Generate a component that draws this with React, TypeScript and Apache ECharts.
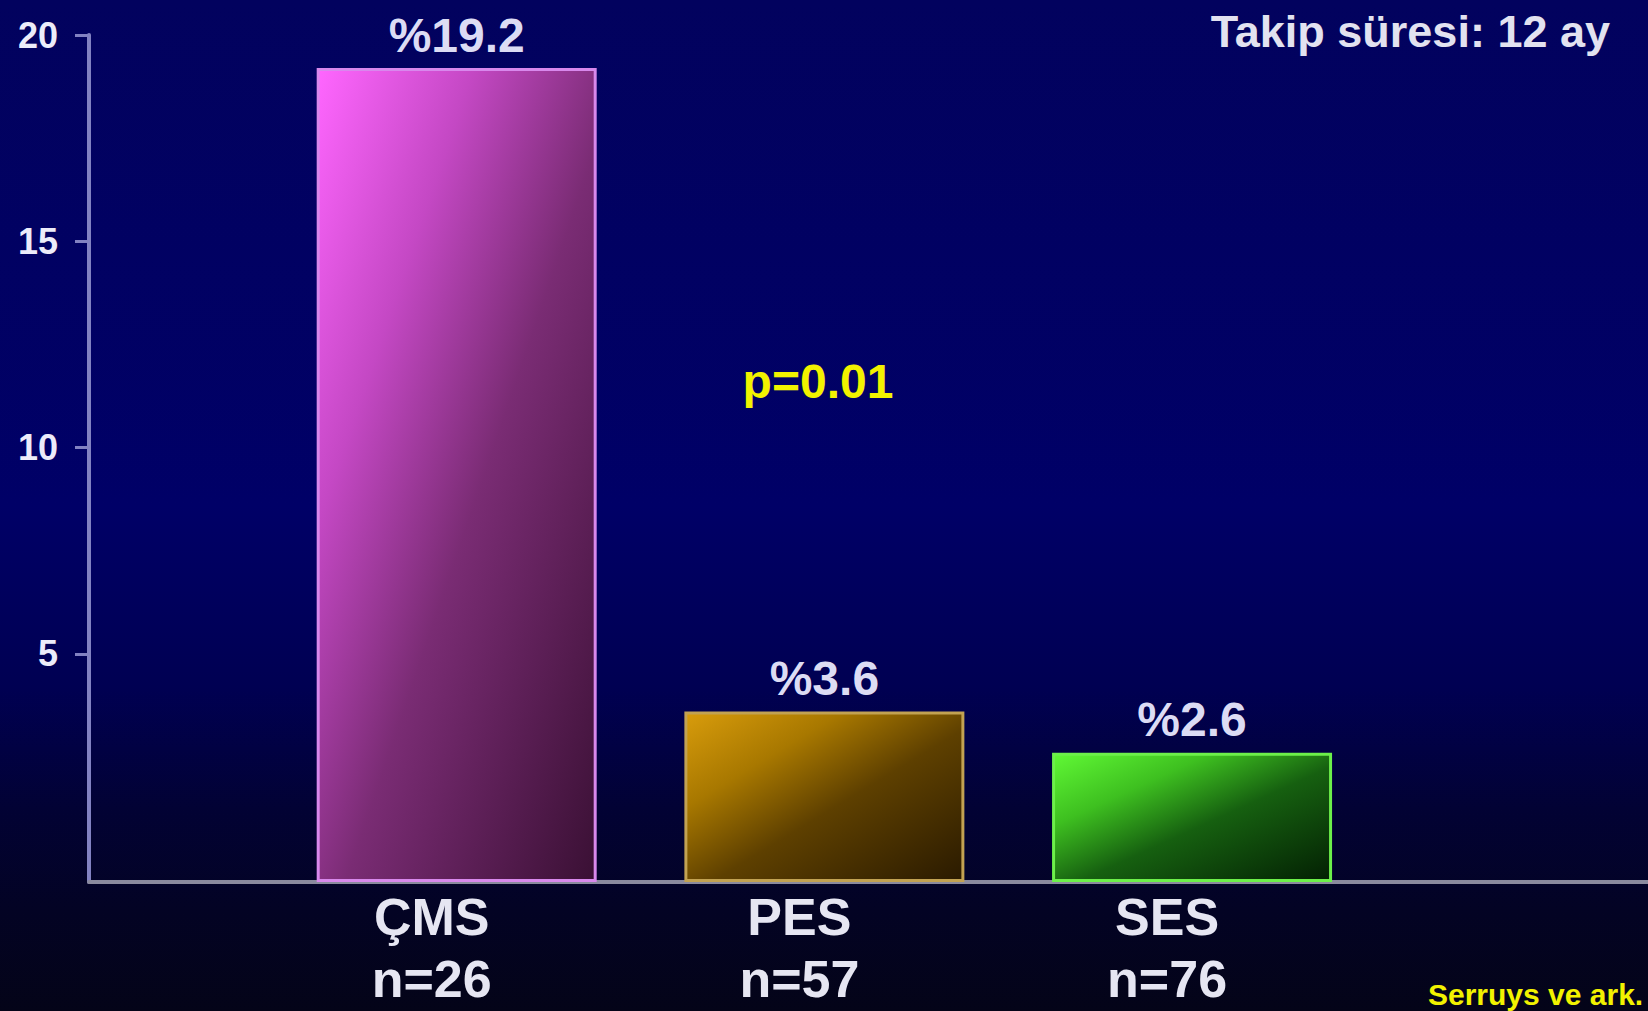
import React, { useEffect, useRef } from 'react';
import * as echarts from 'echarts';

// ---- data ----
const categories = ['ÇMS', 'PES', 'SES'];
const sampleSizes = [26, 57, 76];
const rates = [19.2, 3.6, 2.6];
const yTickValues = [5, 10, 15, 20];
const followUpText = 'Takip süresi: 12 ay';
const pValueText = 'p=0.01';
const sourceText = 'Serruys ve ark.';

// ---- styles ----
const FONT = '"Liberation Sans", Arial, Helvetica, sans-serif';
const Y_MIN = -0.53;
const Y_MAX = 20;
const X_MAX = 4.24;

const barStyles = [
  { stops: ['#ff66ff', '#c448c4', '#7a2c74', '#3a1034'], border: '#d888ec' },
  { stops: ['#d89c0c', '#a87800', '#5e4000', '#2a1a00'], border: '#c2a252' },
  { stops: ['#60f835', '#3ec020', '#166010', '#032003'], border: '#6cf04a' },
];
const stopOffsets = [0, 0.28, 0.55, 1];

export default function App() {
  const ref = useRef<HTMLDivElement>(null);

  useEffect(() => {
    document.body.style.margin = '0';
    if (!ref.current) return;
    const chart = echarts.init(ref.current, null, { renderer: 'svg' });

    const positions = categories.map((_, i) => i + 1);

    const option: any = {
      animation: false,
      backgroundColor: new echarts.graphic.LinearGradient(0, 0, 0, 1, [
        { offset: 0, color: '#02025e' },
        { offset: 0.5, color: '#000067' },
        { offset: 0.68, color: '#000052' },
        { offset: 0.8, color: '#020234' },
        { offset: 0.9, color: '#030324' },
        { offset: 1, color: '#040418' },
      ]),
      textStyle: { fontFamily: FONT },
      grid: {
        left: 89,
        right: 0,
        top: 35,
        bottom: 129,
        containLabel: false,
        outerBoundsMode: 'none',
      },
      xAxis: {
        type: 'value',
        min: 0,
        max: X_MAX,
        axisLine: { show: true, onZero: false, lineStyle: { color: '#8a8a9e', width: 4 } },
        axisTick: { show: false },
        splitLine: { show: false },
        axisLabel: {
          customValues: positions,
          formatter: (v: number) => {
            const i = Math.round(v) - 1;
            return categories[i] !== undefined ? `${categories[i]}\nn=${sampleSizes[i]}` : '';
          },
          color: '#e6e6f2',
          fontSize: 52,
          fontWeight: 'bold',
          fontFamily: FONT,
          lineHeight: 62,
          margin: 4,
          padding: [0, 50, 0, 0],
        },
      },
      yAxis: {
        type: 'value',
        min: Y_MIN,
        max: Y_MAX,
        startValue: Y_MIN,
        axisLine: { show: true, onZero: false, lineStyle: { color: '#8282c2', width: 4 } },
        axisTick: {
          show: true,
          customValues: yTickValues,
          length: 14,
          lineStyle: { color: '#8282c2', width: 3 },
        },
        splitLine: { show: false },
        axisLabel: {
          customValues: yTickValues,
          color: '#ececfa',
          fontSize: 36,
          fontWeight: 'bold',
          fontFamily: FONT,
          margin: 31,
        },
      },
      series: [
        {
          type: 'bar',
          barWidth: 280,
          data: rates.map((v, i) => ({
            value: [positions[i], v],
            itemStyle: {
              color: new echarts.graphic.LinearGradient(
                0, 0, 1, 1,
                barStyles[i].stops.map((c, k) => ({ offset: stopOffsets[k], color: c }))
              ),
              borderColor: barStyles[i].border,
              borderWidth: 3,
            },
          })),
          label: {
            show: true,
            position: 'top',
            distance: 9,
            formatter: (p: any) => '%' + p.value[1],
            color: '#dcdcf4',
            fontSize: 48,
            fontWeight: 'bold',
            fontFamily: FONT,
          },
        },
      ],
      graphic: [
        {
          type: 'text',
          x: 1610,
          y: 9,
          style: {
            text: followUpText,
            fill: '#e2e2f0',
            fontSize: 45,
            fontWeight: 'bold',
            fontFamily: FONT,
            align: 'right',
            textAlign: 'right',
            verticalAlign: 'top',
            textVerticalAlign: 'top',
          },
        },
        {
          type: 'text',
          x: 818,
          y: 357,
          style: {
            text: pValueText,
            fill: '#f2f200',
            fontSize: 48,
            fontWeight: 'bold',
            fontFamily: FONT,
            align: 'center',
            textAlign: 'center',
            verticalAlign: 'top',
            textVerticalAlign: 'top',
          },
        },
        {
          type: 'text',
          x: 1428,
          y: 979,
          style: {
            text: sourceText,
            fill: '#f2f200',
            fontSize: 30,
            fontWeight: 'bold',
            fontFamily: FONT,
            align: 'left',
            textAlign: 'left',
            verticalAlign: 'top',
            textVerticalAlign: 'top',
          },
        },
      ],
    };

    chart.setOption(option);
    return () => chart.dispose();
  }, []);

  return (
    <div
      ref={ref}
      style={{
        position: 'absolute',
        left: 0,
        top: 0,
        width: 1648,
        height: 1011,
        background: 'linear-gradient(#02025e, #000067 50%, #000052 68%, #020234 80%, #040418)',
      }}
    />
  );
}
